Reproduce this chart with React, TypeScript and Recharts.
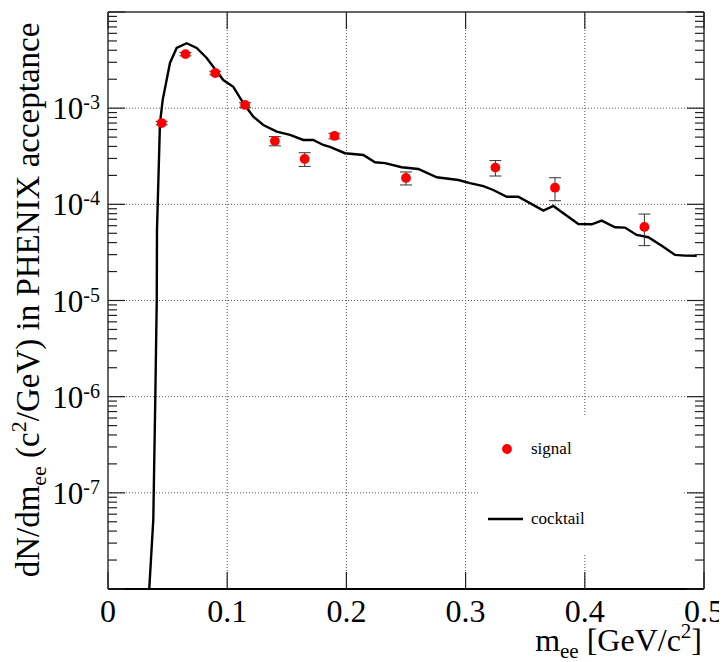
import React from "react";
import {
  ComposedChart,
  Line,
  Scatter,
  ErrorBar,
  XAxis,
  YAxis,
  ReferenceLine,
} from "recharts";

// cocktail curve
const cocktailMass = [
  0.0346, 0.038, 0.0397, 0.0409, 0.0411, 0.0436, 0.0459, 0.052, 0.0576, 0.066,
  0.0744, 0.0828, 0.0967, 0.1051, 0.1135, 0.1219, 0.1303, 0.1415, 0.1527,
  0.1638, 0.1722, 0.1806, 0.1862, 0.1988, 0.2142, 0.224, 0.2324, 0.2464,
  0.2603, 0.2758, 0.2939, 0.3037, 0.3149, 0.3232, 0.3345, 0.3442, 0.354,
  0.3652, 0.3736, 0.382, 0.3946, 0.4058, 0.4142, 0.4253, 0.4337, 0.4435,
  0.4533, 0.4658, 0.4757, 0.4841, 0.4939,
];
const cocktailYield = [
  1.0e-8, 5.24e-8, 1.0e-6, 1.01e-5, 5.4e-5, 7.0e-4, 1.22e-3, 2.95e-3, 4.23e-3,
  4.73e-3, 4.23e-3, 3.33e-3, 1.96e-3, 1.67e-3, 1.13e-3, 8.17e-4, 6.69e-4,
  5.7e-4, 5.27e-4, 4.67e-4, 4.67e-4, 4.14e-4, 3.95e-4, 3.4e-4, 3.26e-4,
  2.74e-4, 2.68e-4, 2.43e-4, 2.33e-4, 1.91e-4, 1.79e-4, 1.66e-4, 1.55e-4,
  1.41e-4, 1.2e-4, 1.2e-4, 1.03e-4, 8.6e-5, 9.62e-5, 8.07e-5, 6.25e-5, 6.2e-5,
  6.77e-5, 5.78e-5, 5.73e-5, 4.81e-5, 4.55e-5, 3.63e-5, 2.98e-5, 2.93e-5,
  2.92e-5,
];

// measured signal points
const signalMass = [0.045, 0.065, 0.09, 0.115, 0.14, 0.165, 0.19, 0.25, 0.325, 0.375, 0.45];
const signalYield = [7.0e-4, 3.65e-3, 2.32e-3, 1.08e-3, 4.56e-4, 2.96e-4, 5.14e-4, 1.88e-4, 2.41e-4, 1.49e-4, 5.82e-5];
const signalErr = [3e-5, 1.5e-4, 1e-4, 6e-5, 5e-5, 4.8e-5, 3.5e-5, 2.9e-5, 4.4e-5, 4e-5, 2.1e-5];

// axes
const xTicks = [0, 0.1, 0.2, 0.3, 0.4, 0.5];
const xTickLabels = ["0", "0.1", "0.2", "0.3", "0.4", "0.5"];
const xGrid = [0.1, 0.2, 0.3, 0.4];
const decades = [-8, -7, -6, -5, -4, -3];
const minorMultipliers = [1, 2, 3, 4, 5, 6, 7, 8, 9];
const labeledDecades = [-7, -6, -5, -4, -3];
const yGrid = [1e-7, 1e-6, 1e-5, 1e-4, 1e-3];

const cocktail = cocktailMass.map((m, i) => ({ x: m, y: cocktailYield[i] }));
const signal = signalMass.map((m, i) => ({ x: m, y: signalYield[i], err: signalErr[i] }));
const yTicks = [
  ...decades.flatMap((d) => minorMultipliers.map((k) => k * Math.pow(10, d))),
  1e-2,
];

const serif = { fontFamily: "'Liberation Serif', 'Times New Roman', Tinos, 'DejaVu Serif', serif" };
const W = 719;
const H = 654;

const isMajor = (v: number) => {
  const e = Math.round(Math.log10(v));
  return Math.abs(v / Math.pow(10, e) - 1) < 1e-6;
};

// eslint-disable-next-line @typescript-eslint/no-explicit-any
const LeftTick = (props: any) => {
  const { x, y, payload } = props;
  const v = payload.value;
  const major = isMajor(v);
  const e = Math.round(Math.log10(v));
  const len = major ? 17 : 9;
  return (
    <g>
      <line x1={x} x2={x + len} y1={y} y2={y} stroke="#222" strokeWidth={1.2} />
      {major && labeledDecades.includes(e) && (
        <text x={x - 8} y={y + 11} textAnchor="end" style={serif} fontSize={31} fill="#000">
          10
          <tspan dy={-10} fontSize={20}>{`-${Math.abs(e)}`}</tspan>
        </text>
      )}
    </g>
  );
};

// eslint-disable-next-line @typescript-eslint/no-explicit-any
const RightTick = (props: any) => {
  const { x, y, payload } = props;
  const len = isMajor(payload.value) ? 17 : 9;
  return <line x1={x} x2={x - len} y1={y} y2={y} stroke="#222" strokeWidth={1.2} />;
};

// eslint-disable-next-line @typescript-eslint/no-explicit-any
const BottomTick = (props: any) => {
  const { x, y, payload, index } = props;
  return (
    <g>
      <line x1={x} x2={x} y1={y} y2={y - 17} stroke="#222" strokeWidth={1.2} />
      <text x={x} y={y + 33} textAnchor="middle" style={serif} fontSize={32} fill="#000">
        {xTickLabels[index] ?? String(payload.value)}
      </text>
    </g>
  );
};

// eslint-disable-next-line @typescript-eslint/no-explicit-any
const TopTick = (props: any) => {
  const { x, y } = props;
  return <line x1={x} x2={x} y1={y} y2={y + 17} stroke="#222" strokeWidth={1.2} />;
};

// eslint-disable-next-line @typescript-eslint/no-explicit-any
const Dot = (props: any) => <circle cx={props.cx} cy={props.cy} r={4.9} fill="#ff0000" />;

export default function App() {
  return (
    <div style={{ position: "relative", width: W, height: H, background: "#fff" }}>
      <ComposedChart width={W} height={H} margin={{ top: 0, right: 0, bottom: 0, left: 0 }}>
        <XAxis
          dataKey="x"
          type="number"
          domain={[0, 0.5]}
          allowDataOverflow
          ticks={xTicks}
          interval={0}
          height={73}
          tickSize={0}
          tickMargin={0}
          tickLine={false}
          tick={<BottomTick />}
          axisLine={{ stroke: "#000", strokeWidth: 2 }}
        />
        <XAxis
          xAxisId="t"
          orientation="top"
          dataKey="x"
          type="number"
          domain={[0, 0.5]}
          allowDataOverflow
          ticks={xTicks}
          interval={0}
          height={4}
          tickSize={0}
          tickMargin={0}
          tickLine={false}
          tick={<TopTick />}
          axisLine={{ stroke: "#666", strokeWidth: 2 }}
        />
        <YAxis
          type="number"
          scale="log"
          domain={[1e-8, 1e-2]}
          allowDataOverflow
          ticks={yTicks}
          interval={0}
          width={100}
          tickSize={0}
          tickMargin={0}
          tickLine={false}
          tick={<LeftTick />}
          axisLine={{ stroke: "#666", strokeWidth: 2 }}
        />
        <YAxis
          yAxisId="r"
          orientation="right"
          type="number"
          scale="log"
          domain={[1e-8, 1e-2]}
          allowDataOverflow
          ticks={yTicks}
          interval={0}
          width={23}
          tickSize={0}
          tickMargin={0}
          tickLine={false}
          tick={<RightTick />}
          axisLine={{ stroke: "#666", strokeWidth: 2 }}
        />

        {/* dotted grid at major ticks */}
        {xGrid.map((v) => (
          <ReferenceLine key={`gx${v}`} x={v} stroke="#555" strokeDasharray="1 2" strokeWidth={1} />
        ))}
        {yGrid.map((v) => (
          <ReferenceLine key={`gy${v}`} y={v} stroke="#555" strokeDasharray="1 2" strokeWidth={1} />
        ))}

        {/* keeps the mirrored axes tied to data */}
        <Line
          xAxisId="t"
          yAxisId="r"
          data={cocktail}
          dataKey="y"
          stroke="none"
          dot={false}
          activeDot={false}
          legendType="none"
          isAnimationActive={false}
        />

        <Line
          data={cocktail}
          dataKey="y"
          type="linear"
          stroke="#000"
          strokeWidth={2.4}
          dot={false}
          activeDot={false}
          isAnimationActive={false}
        />
        <Scatter data={signal} dataKey="y" shape={<Dot />} isAnimationActive={false}>
          <ErrorBar dataKey="err" direction="y" width={6} stroke="#333" strokeWidth={1} />
        </Scatter>

        <text
          transform="translate(31,292) rotate(-90)"
          textAnchor="middle"
          style={serif}
          fontSize={33}
          fill="#000"
        >
          dN/dm
          <tspan dy={7} fontSize={22}>ee</tspan>
          <tspan dy={-7}> (c</tspan>
          <tspan dy={-13} fontSize={22}>2</tspan>
          <tspan dy={13}>/GeV) in PHENIX acceptance</tspan>
        </text>
        <text x={694} y={643} textAnchor="end" style={serif} fontSize={32} fill="#000">
          m
          <tspan dy={7} fontSize={21}>ee</tspan>
          <tspan dy={-7}> [GeV/c</tspan>
          <tspan dy={-13} fontSize={21}>2</tspan>
          <tspan dy={13}>]</tspan>
        </text>
      </ComposedChart>

      {/* legend box */}
      <svg
        width={203}
        height={138}
        style={{ position: "absolute", left: 472, top: 407 }}
      >
        <rect x={0} y={0} width={203} height={138} fill="#fff" />
        <circle cx={27} cy={34} r={4.9} fill="#ff0000" />
        <text x={51} y={39} style={serif} fontSize={17} fill="#000">signal</text>
        <line x1={8} x2={43} y1={104} y2={104} stroke="#000" strokeWidth={2.4} />
        <text x={51} y={109} style={serif} fontSize={17} fill="#000">cocktail</text>
      </svg>
    </div>
  );
}
